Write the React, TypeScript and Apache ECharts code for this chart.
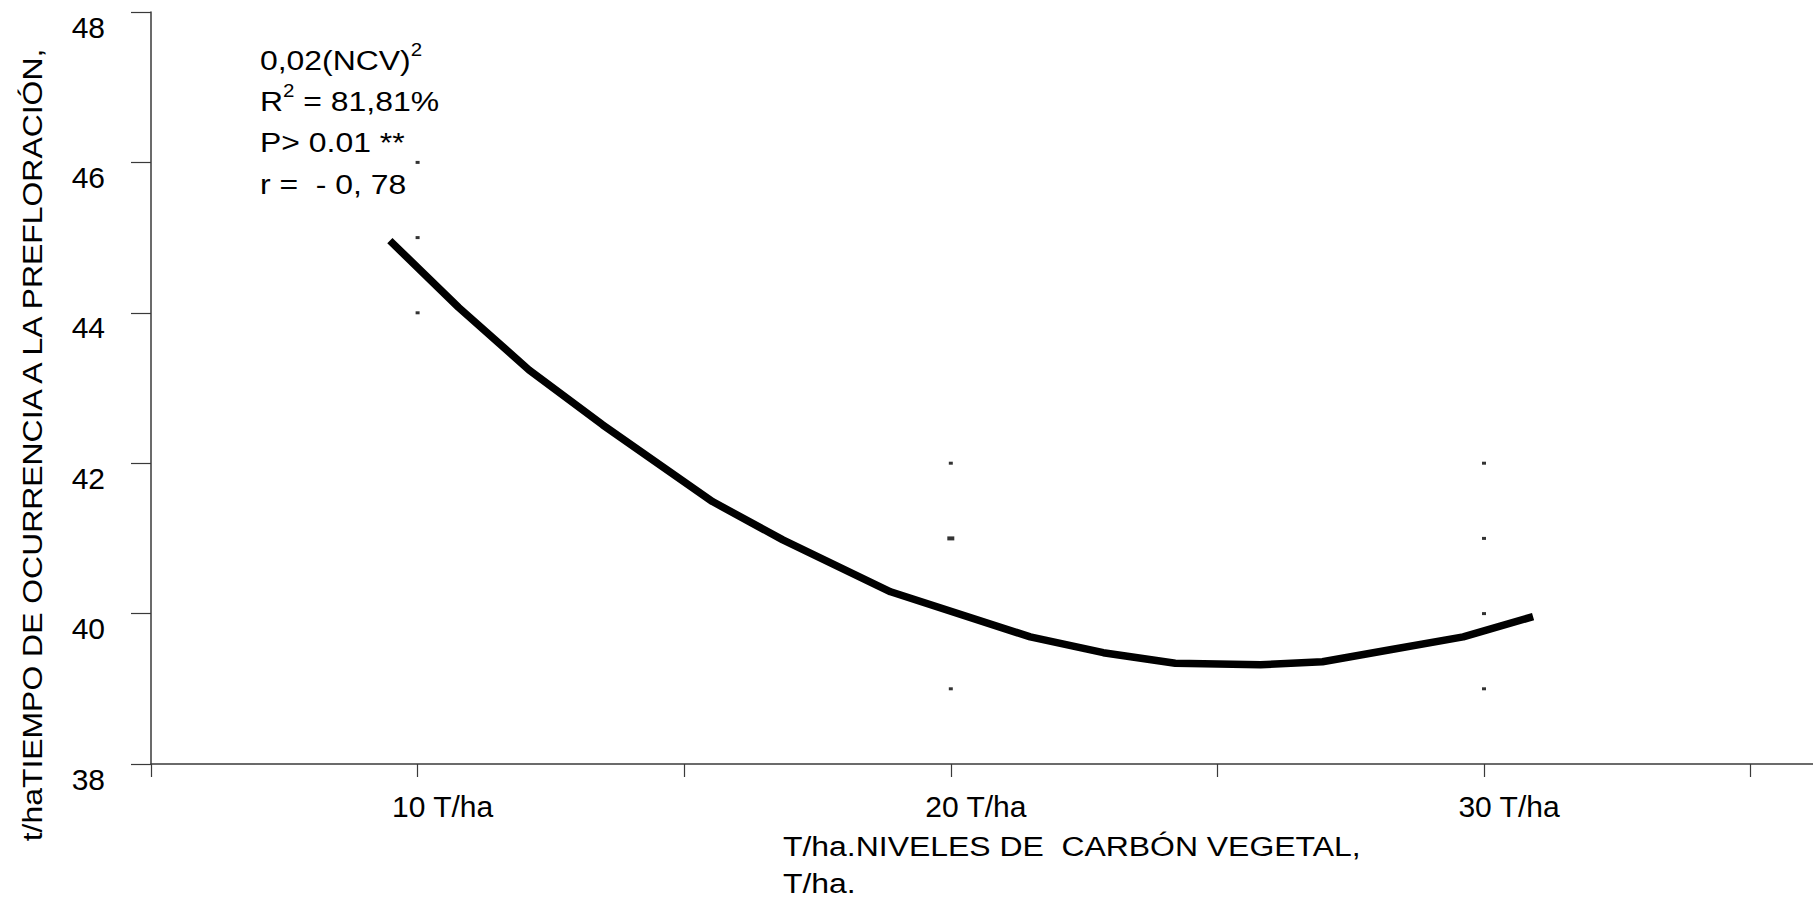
import React, { useEffect, useRef } from "react";
import * as echarts from "echarts";

// Observed days to pre-flowering for each charcoal level (T/ha)
const levels = [10, 10, 10, 20, 20, 20, 30, 30, 30, 30];
const days = [46, 45, 44, 42, 41, 39, 42, 41, 40, 39];
// (20, 41) carries two overlapping observations, drawn as a wider marker
const doubled = [false, false, false, false, true, false, false, false, false, false];

// Quadratic trend line, sampled at its drawn vertices
const fitX = [9.48, 10.77, 12.09, 13.47, 15.53, 16.85, 18.87, 21.49, 22.86, 24.21, 25.81, 26.97, 28.24, 29.61, 30.92];
const fitY = [44.96, 44.07, 43.24, 42.51, 41.49, 40.98, 40.29, 39.69, 39.48, 39.34, 39.32, 39.36, 39.52, 39.69, 39.96];

const xTicks = [5, 10, 15, 20, 25, 30, 35];
const xLabelValues = [10, 20, 30];
const xUnit = " T/ha";

const yTitle = "t/haTIEMPO DE OCURRENCIA A LA PREFLORACIÓN,";
const xTitle = ["T/ha.NIVELES DE  CARBÓN VEGETAL,", "T/ha."];

const FONT = "'Liberation Sans', Arial, Helvetica, sans-serif";
const AXIS_COLOR = "#3a3a3a";
const WIDE = 1.14;

const mainTok = { fontSize: 28, fontFamily: FONT, fill: "#000", lineHeight: 38 };
const supTok = { fontSize: 18, fontFamily: FONT, fill: "#000", lineHeight: 20, verticalAlign: "top" };

function textEl(x: number, y: number, text: string, extra: any = {}) {
  return {
    type: "text",
    x,
    y,
    scaleX: WIDE,
    ...extra,
    style: {
      text,
      fontSize: 28,
      fontFamily: FONT,
      fill: "#000",
      align: "left",
      verticalAlign: "middle",
      rich: { a: mainTok, s: supTok },
      ...(extra.style || {}),
    },
  };
}

export default function App() {
  const ref = useRef<HTMLDivElement>(null);

  useEffect(() => {
    const chart = echarts.init(ref.current!, undefined, { renderer: "svg" });

    const scatterData = levels.map((lv, i) => ({
      value: [lv, days[i]],
      symbolSize: doubled[i] ? [7, 4] : [4, 3],
    }));
    const fitData = fitX.map((x, i) => [x, fitY[i]]);

    chart.setOption({
      animation: false,
      backgroundColor: "#fff",
      grid: { left: 151, right: 0, top: 12, bottom: 138, containLabel: false },
      xAxis: {
        type: "value",
        min: 5,
        max: 36.17,
        interval: 5,
        splitLine: { show: false },
        axisLine: { show: true, onZero: false, lineStyle: { color: AXIS_COLOR, width: 1.5 } },
        axisTick: {
          show: true,
          inside: false,
          length: 13,
          customValues: xTicks,
          lineStyle: { color: AXIS_COLOR, width: 1.2 },
        },
        axisLabel: {
          customValues: xLabelValues,
          formatter: (v: number) => `${v}${xUnit}`,
          fontSize: 30,
          fontFamily: FONT,
          color: "#000",
          margin: 27,
          padding: [0, 0, 0, 50],
        },
      },
      yAxis: {
        type: "value",
        min: 38,
        max: 48,
        interval: 2,
        splitLine: { show: false },
        axisLine: { show: true, lineStyle: { color: AXIS_COLOR, width: 1.5 } },
        axisTick: { show: true, inside: false, length: 20, lineStyle: { color: AXIS_COLOR, width: 1.2 } },
        axisLabel: {
          fontSize: 30,
          fontFamily: FONT,
          color: "#000",
          margin: 46,
          verticalAlign: "top",
        },
      },
      series: [
        {
          type: "line",
          data: fitData,
          showSymbol: false,
          symbol: "none",
          smooth: false,
          lineStyle: { color: "#000", width: 7.5, cap: "butt", join: "round" },
          z: 3,
        },
        {
          type: "scatter",
          data: scatterData,
          symbol: "rect",
          itemStyle: { color: "#000" },
          z: 4,
        },
      ],
      graphic: [
        textEl(260, 60, "{a|0,02(NCV)}{s|2}"),
        textEl(260, 101, "{a|R}{s|2}{a| = 81,81%}"),
        textEl(260, 142, "P> 0.01 **"),
        textEl(260, 184, "r =  - 0, 78"),
        textEl(32, 445, yTitle, { rotation: Math.PI / 2, style: { align: "center" } }),
        textEl(783, 846, xTitle[0]),
        textEl(783, 883, xTitle[1]),
      ],
    });

    return () => chart.dispose();
  }, []);

  return (
    <div
      ref={ref}
      style={{ position: "fixed", left: 0, top: 0, width: 1813, height: 902, background: "#fff" }}
    />
  );
}
